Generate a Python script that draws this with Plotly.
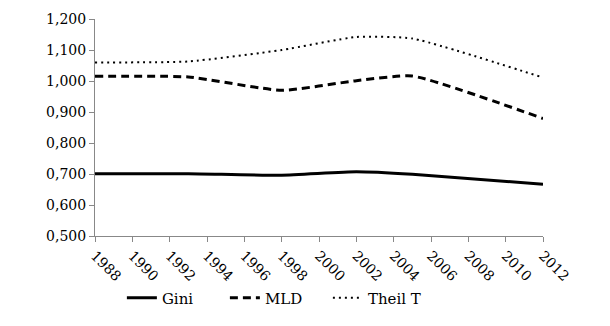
import plotly.graph_objects as go

years = [1988, 1993, 1998, 2002, 2005, 2012]
gini = [0.701, 0.701, 0.696, 0.707, 0.699, 0.667]
mld = [1.015, 1.013, 0.970, 1.001, 1.016, 0.879]
theil = [1.060, 1.063, 1.100, 1.142, 1.137, 1.011]
xticks = list(range(1988, 2013, 2))
yticks = [0.5, 0.6, 0.7, 0.8, 0.9, 1.0, 1.1, 1.2]

font = "DejaVu Serif"
fig = go.Figure()
fig.add_trace(go.Scatter(x=years, y=gini, name="Gini", mode="lines",
                         line=dict(color="black", width=3, shape="spline", smoothing=0.5)))
fig.add_trace(go.Scatter(x=years, y=mld, name="MLD", mode="lines",
                         line=dict(color="black", width=3, dash="8px,5px", shape="spline", smoothing=0.5)))
fig.add_trace(go.Scatter(x=years, y=theil, name="Theil T", mode="lines",
                         line=dict(color="black", width=2, dash="2px,4px", shape="spline", smoothing=0.5)))

fig.update_layout(
    width=610, height=326,
    margin=dict(l=95, r=67, t=11, b=81),
    plot_bgcolor="white", paper_bgcolor="white",
    separators=", ",
    font=dict(family=font, size=14, color="black"),
    showlegend=True,
    legend=dict(orientation="h", x=0.06, xanchor="left", y=-0.286, yanchor="middle",
                font=dict(family=font, size=15), itemwidth=30,
                entrywidth=58, entrywidthmode="pixels"),
    xaxis=dict(range=[1988, 2012], tickvals=xticks, ticktext=[str(v) for v in xticks],
               tickangle=45, showgrid=False, showline=True, linecolor="#888888",
               ticks="outside", ticklen=5, tickcolor="#888888", zeroline=False,
               tickfont=dict(family=font, size=14)),
    yaxis=dict(range=[0.5, 1.2], tickvals=yticks, tickformat=".3f",
               showgrid=False, showline=True, linecolor="#888888",
               ticks="outside", ticklen=5, tickcolor="#888888", zeroline=False,
               tickfont=dict(family=font, size=14)),
)
fig.write_html("out.html")
